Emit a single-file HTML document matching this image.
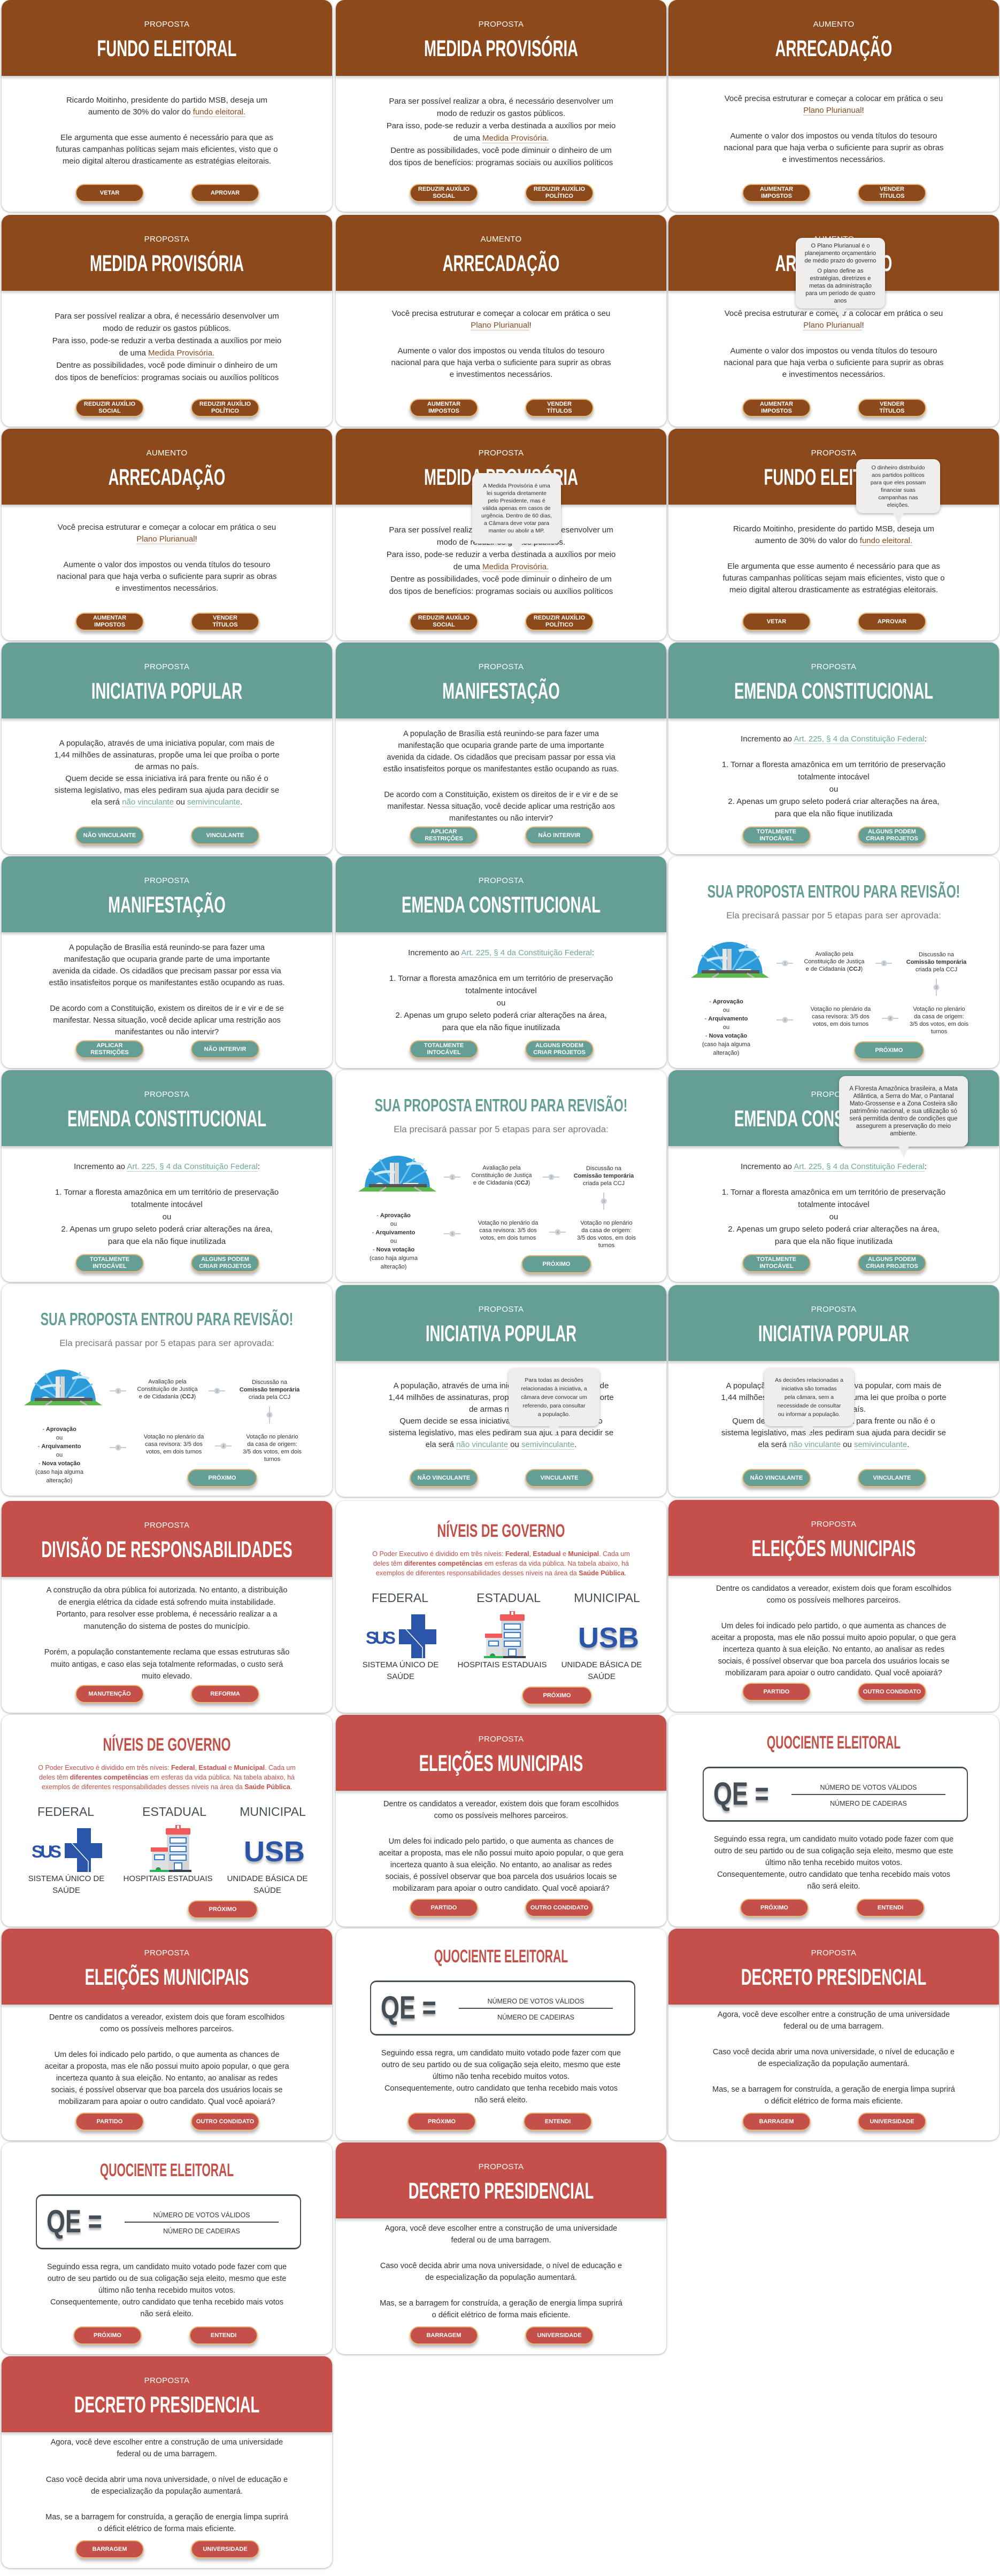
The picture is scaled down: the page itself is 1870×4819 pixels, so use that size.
<!DOCTYPE html>
<html lang="pt-BR">
<head>
<meta charset="utf-8">
<title>Propostas</title>
<style>
*{box-sizing:border-box;margin:0;padding:0}
html,body{width:1870px;height:4819px;background:#fff;overflow:hidden}
body{position:relative;font-family:"Liberation Sans","DejaVu Sans",sans-serif;color:#333}
.card{position:absolute;width:618px;height:396px;background:#fff;border-radius:16px;box-shadow:0 1px 4px rgba(0,0,0,.35)}
.hdr{position:absolute;left:0;top:0;width:100%;height:142px;border-radius:16px 16px 0 0;color:#fff;text-align:center;box-shadow:0 4px 5px rgba(0,0,0,.18)}
.b .hdr,.b .btn{background:#8c4a1c}
.t .hdr,.t .btn{background:#659e95}
.r .hdr,.r .btn{background:#c5504a}
.sub{position:absolute;left:0;right:0;top:38px;font-size:15px;line-height:16px;letter-spacing:.3px}
.ttl{position:absolute;left:0;right:0;top:68px;height:46px;font-size:43px;line-height:46px;font-weight:bold;white-space:nowrap}
.ttl span,.wt span{position:absolute;left:50%;top:0;white-space:nowrap;transform:translateX(-50%) scaleX(var(--s,.64))}
.body{position:absolute;left:0;right:0;text-align:center;font-size:15px;line-height:22px;white-space:nowrap;color:#333}
.body p+p{margin-top:26px}
.lb{color:#8c4a1c;border-bottom:1.5px solid #d9b8a6}
.lt{color:#6fa89f;border-bottom:1.5px solid #b8d6d1}
.btn{position:absolute;top:344px;width:128px;height:34px;border-radius:17px;border:2px solid #e9b676;color:#fff;font-weight:bold;font-size:11px;line-height:13px;display:flex;align-items:center;justify-content:center;text-align:center;box-shadow:0 5px 6px rgba(0,0,0,.28)}
.b1{left:138px}.b2{left:354px}
.tip{position:absolute;background:#efeeec;border-radius:12px;box-shadow:0 2px 6px rgba(0,0,0,.3);color:#333;font-size:11px;line-height:14px;text-align:center;display:flex;flex-direction:column;justify-content:center;z-index:5}
.tip i{position:absolute;width:0;height:0;border-left:10px solid transparent;border-right:10px solid transparent;border-top:22px solid #efeeec;bottom:-21px}
.wt{position:absolute;left:0;right:0;height:36px;text-align:center;font-weight:bold;white-space:nowrap}
.teal{color:#659e95}.red{color:#c5504a}
.abs{position:absolute}
.st{position:absolute;font-size:11px;line-height:14px;text-align:center;white-space:nowrap;color:#333;transform:translateX(-50%)}
.arr{position:absolute;width:34px;height:12px}
</style>
</head>
<body>

<!-- ROW 1 -->
<div class="card b" style="left:3px;top:0">
 <div class="hdr"><div class="sub">PROPOSTA</div><div class="ttl"><span>FUNDO ELEITORAL</span></div></div>
 <div class="body" style="top:177px"><p>Ricardo Moitinho, presidente do partido MSB, deseja um<br>aumento de 30% do valor do <span class="lb">fundo eleitoral.</span></p><p>Ele argumenta que esse aumento é necessário para que as<br>futuras campanhas políticas sejam mais eficientes, visto que o<br>meio digital alterou drasticamente as estratégias eleitorais.</p></div>
 <div class="btn b1">VETAR</div><div class="btn b2">APROVAR</div>
</div>
<div class="card b" style="left:628px;top:0">
 <div class="hdr"><div class="sub">PROPOSTA</div><div class="ttl"><span>MEDIDA PROVISÓRIA</span></div></div>
 <div class="body" style="top:178px;line-height:23px"><p>Para ser possível realizar a obra, é necessário desenvolver um<br>modo de reduzir os gastos públicos.<br>Para isso, pode-se reduzir a verba destinada a auxílios por meio<br>de uma <span class="lb">Medida Provisória.</span><br>Dentre as possibilidades, você pode diminuir o dinheiro de um<br>dos tipos de benefícios: programas sociais ou auxílios políticos</p></div>
 <div class="btn b1">REDUZIR AUXÍLIO<br>SOCIAL</div><div class="btn b2">REDUZIR AUXÍLIO<br>POLÍTICO</div>
</div>
<div class="card b" style="left:1250px;top:0">
 <div class="hdr"><div class="sub">AUMENTO</div><div class="ttl"><span>ARRECADAÇÃO</span></div></div>
 <div class="body" style="top:174px"><p>Você precisa estruturar e começar a colocar em prática o seu<br><span class="lb">Plano Plurianual</span>!</p><p>Aumente o valor dos impostos ou venda títulos do tesouro<br>nacional para que haja verba o suficiente para suprir as obras<br>e investimentos necessários.</p></div>
 <div class="btn b1">AUMENTAR<br>IMPOSTOS</div><div class="btn b2">VENDER<br>TÍTULOS</div>
</div>

<!-- ROW 2 -->
<div class="card b" style="left:3px;top:402px">
 <div class="hdr"><div class="sub">PROPOSTA</div><div class="ttl"><span>MEDIDA PROVISÓRIA</span></div></div>
 <div class="body" style="top:178px;line-height:23px"><p>Para ser possível realizar a obra, é necessário desenvolver um<br>modo de reduzir os gastos públicos.<br>Para isso, pode-se reduzir a verba destinada a auxílios por meio<br>de uma <span class="lb">Medida Provisória.</span><br>Dentre as possibilidades, você pode diminuir o dinheiro de um<br>dos tipos de benefícios: programas sociais ou auxílios políticos</p></div>
 <div class="btn b1">REDUZIR AUXÍLIO<br>SOCIAL</div><div class="btn b2">REDUZIR AUXÍLIO<br>POLÍTICO</div>
</div>
<div class="card b" style="left:628px;top:402px">
 <div class="hdr"><div class="sub">AUMENTO</div><div class="ttl"><span>ARRECADAÇÃO</span></div></div>
 <div class="body" style="top:174px"><p>Você precisa estruturar e começar a colocar em prática o seu<br><span class="lb">Plano Plurianual</span>!</p><p>Aumente o valor dos impostos ou venda títulos do tesouro<br>nacional para que haja verba o suficiente para suprir as obras<br>e investimentos necessários.</p></div>
 <div class="btn b1">AUMENTAR<br>IMPOSTOS</div><div class="btn b2">VENDER<br>TÍTULOS</div>
</div>
<div class="card b" style="left:1250px;top:402px">
 <div class="hdr"><div class="sub">AUMENTO</div><div class="ttl"><span>ARRECADAÇÃO</span></div></div>
 <div class="body" style="top:174px"><p>Você precisa estruturar e começar a colocar em prática o seu<br><span class="lb">Plano Plurianual</span>!</p><p>Aumente o valor dos impostos ou venda títulos do tesouro<br>nacional para que haja verba o suficiente para suprir as obras<br>e investimentos necessários.</p></div>
 <div class="btn b1">AUMENTAR<br>IMPOSTOS</div><div class="btn b2">VENDER<br>TÍTULOS</div>
 <div class="tip" style="left:238px;top:43px;width:167px;height:132px"><div>O Plano Plurianual é o<br>planejamento orçamentário<br>de médio prazo do governo</div><div style="margin-top:5px">O plano define as<br>estratégias, diretrizes e<br>metas da administração<br>para um período de quatro<br>anos</div><i style="left:74px"></i></div>
</div>

<!-- ROW 3 -->
<div class="card b" style="left:3px;top:802px">
 <div class="hdr"><div class="sub">AUMENTO</div><div class="ttl"><span>ARRECADAÇÃO</span></div></div>
 <div class="body" style="top:174px"><p>Você precisa estruturar e começar a colocar em prática o seu<br><span class="lb">Plano Plurianual</span>!</p><p>Aumente o valor dos impostos ou venda títulos do tesouro<br>nacional para que haja verba o suficiente para suprir as obras<br>e investimentos necessários.</p></div>
 <div class="btn b1">AUMENTAR<br>IMPOSTOS</div><div class="btn b2">VENDER<br>TÍTULOS</div>
</div>
<div class="card b" style="left:628px;top:802px">
 <div class="hdr"><div class="sub">PROPOSTA</div><div class="ttl"><span>MEDIDA PROVISÓRIA</span></div></div>
 <div class="body" style="top:178px;line-height:23px"><p>Para ser possível realizar a obra, é necessário desenvolver um<br>modo de reduzir os gastos públicos.<br>Para isso, pode-se reduzir a verba destinada a auxílios por meio<br>de uma <span class="lb">Medida Provisória.</span><br>Dentre as possibilidades, você pode diminuir o dinheiro de um<br>dos tipos de benefícios: programas sociais ou auxílios políticos</p></div>
 <div class="btn b1">REDUZIR AUXÍLIO<br>SOCIAL</div><div class="btn b2">REDUZIR AUXÍLIO<br>POLÍTICO</div>
 <div class="tip" style="left:255px;top:83px;width:166px;height:132px;font-size:10.5px"><div>A Medida Provisória é uma<br>lei sugerida diretamente<br>pelo Presidente, mas é<br>válida apenas em casos de<br>urgência. Dentro de 60 dias,<br>a Câmara deve votar para<br>manter ou abolir a MP.</div><i style="left:74px"></i></div>
</div>
<div class="card b" style="left:1250px;top:802px">
 <div class="hdr"><div class="sub">PROPOSTA</div><div class="ttl"><span>FUNDO ELEITORAL</span></div></div>
 <div class="body" style="top:177px"><p>Ricardo Moitinho, presidente do partido MSB, deseja um<br>aumento de 30% do valor do <span class="lb">fundo eleitoral.</span></p><p>Ele argumenta que esse aumento é necessário para que as<br>futuras campanhas políticas sejam mais eficientes, visto que o<br>meio digital alterou drasticamente as estratégias eleitorais.</p></div>
 <div class="btn b1">VETAR</div><div class="btn b2">APROVAR</div>
 <div class="tip" style="left:351px;top:57px;width:157px;height:101px;font-size:10.5px"><div>O dinheiro distribuído<br>aos partidos políticos<br>para que eles possam<br>financiar suas<br>campanhas nas<br>eleições.</div><i style="left:69px"></i></div>
</div>

<!-- ROW 4 -->
<div class="card t" style="left:3px;top:1202px">
 <div class="hdr"><div class="sub">PROPOSTA</div><div class="ttl"><span>INICIATIVA POPULAR</span></div></div>
 <div class="body" style="top:178px"><p>A população, através de uma iniciativa popular, com mais de<br>1,44 milhões de assinaturas, propõe uma lei que proíba o porte<br>de armas no país.<br>Quem decide se essa iniciativa irá para frente ou não é o<br>sistema legislativo, mas eles pediram sua ajuda para decidir se<br>ela será <span class="lt">não vinculante</span> ou <span class="lt">semivinculante</span>.</p></div>
 <div class="btn b1">NÃO VINCULANTE</div><div class="btn b2">VINCULANTE</div>
</div>
<div class="card t" style="left:628px;top:1202px">
 <div class="hdr"><div class="sub">PROPOSTA</div><div class="ttl"><span>MANIFESTAÇÃO</span></div></div>
 <div class="body" style="top:160px;font-size:14.5px"><p>A população de Brasília está reunindo-se para fazer uma<br>manifestação que ocuparia grande parte de uma importante<br>avenida da cidade. Os cidadãos que precisam passar por essa via<br>estão insatisfeitos porque os manifestantes estão ocupando as ruas.</p><p>De acordo com a Constituição, existem os direitos de ir e vir e de se<br>manifestar. Nessa situação, você decide aplicar uma restrição aos<br>manifestantes ou não intervir?</p></div>
 <div class="btn b1">APLICAR<br>RESTRIÇÕES</div><div class="btn b2">NÃO INTERVIR</div>
</div>
<div class="card t" style="left:1250px;top:1202px">
 <div class="hdr"><div class="sub">PROPOSTA</div><div class="ttl"><span>EMENDA CONSTITUCIONAL</span></div></div>
 <div class="body" style="top:169px;line-height:23px"><p>Incremento ao <span class="lt">Art. 225, § 4 da Constituição Federal</span>:</p><p style="margin-top:25px">1. Tornar a floresta amazônica em um território de preservação<br>totalmente intocável<br>ou<br>2. Apenas um grupo seleto poderá criar alterações na área,<br>para que ela não fique inutilizada</p></div>
 <div class="btn b1">TOTALMENTE<br>INTOCÁVEL</div><div class="btn b2">ALGUNS PODEM<br>CRIAR PROJETOS</div>
</div>

<!-- ROW 5 -->
<div class="card t" style="left:3px;top:1602px">
 <div class="hdr"><div class="sub">PROPOSTA</div><div class="ttl"><span>MANIFESTAÇÃO</span></div></div>
 <div class="body" style="top:160px;font-size:14.5px"><p>A população de Brasília está reunindo-se para fazer uma<br>manifestação que ocuparia grande parte de uma importante<br>avenida da cidade. Os cidadãos que precisam passar por essa via<br>estão insatisfeitos porque os manifestantes estão ocupando as ruas.</p><p>De acordo com a Constituição, existem os direitos de ir e vir e de se<br>manifestar. Nessa situação, você decide aplicar uma restrição aos<br>manifestantes ou não intervir?</p></div>
 <div class="btn b1">APLICAR<br>RESTRIÇÕES</div><div class="btn b2">NÃO INTERVIR</div>
</div>
<div class="card t" style="left:628px;top:1602px">
 <div class="hdr"><div class="sub">PROPOSTA</div><div class="ttl"><span>EMENDA CONSTITUCIONAL</span></div></div>
 <div class="body" style="top:169px;line-height:23px"><p>Incremento ao <span class="lt">Art. 225, § 4 da Constituição Federal</span>:</p><p style="margin-top:25px">1. Tornar a floresta amazônica em um território de preservação<br>totalmente intocável<br>ou<br>2. Apenas um grupo seleto poderá criar alterações na área,<br>para que ela não fique inutilizada</p></div>
 <div class="btn b1">TOTALMENTE<br>INTOCÁVEL</div><div class="btn b2">ALGUNS PODEM<br>CRIAR PROJETOS</div>
</div>
<div class="card t" style="left:1250px;top:1602px">
 <div class="wt teal" style="top:48px;font-size:33px;line-height:36px"><span style="--s:.7">SUA PROPOSTA ENTROU PARA REVISÃO!</span></div>
 <div class="abs" style="left:0;right:0;top:101px;text-align:center;font-size:17px;line-height:20px;color:#777">Ela precisará passar por 5 etapas para ser aprovada:</div>
 <svg class="abs" style="left:42px;top:155px" width="146" height="72" viewBox="0 0 146 72"><path d="M12 66 A61 61 0 0 1 134 66 Z" fill="#2c9ad8"/><g stroke="#6cc3ee" stroke-width="3"><line x1="73" y1="66" x2="20" y2="30"/><line x1="73" y1="66" x2="40" y2="12"/><line x1="73" y1="66" x2="105" y2="10"/><line x1="73" y1="66" x2="128" y2="32"/></g><path d="M30 40 q20 -8 40 -4 M90 22 q15 -6 32 0" stroke="#cfeaf8" stroke-width="5" fill="none"/><rect x="59" y="18" width="8" height="43" fill="#e8e8e8"/><rect x="68" y="18" width="8" height="43" fill="#d2d2d2"/><path d="M83 56 h30 q-4 7 -15 7 q-11 0 -15 -7z" fill="#f2f2f2"/><path d="M30 60 q10 -9 20 0z" fill="#f2f2f2"/><rect x="20" y="58" width="108" height="6" fill="#555"/><path d="M0 72 L12 64 H134 L146 72 Z" fill="#5cb848"/><path d="M40 72 L52 64 M105 64 L118 72" stroke="#bbb" stroke-width="3"/></svg>
 <svg class="arr" style="left:201px;top:194px" viewBox="0 0 34 12"><line x1="1" y1="6" x2="32" y2="6" stroke="#999"/><circle cx="17" cy="6" r="5.5" fill="#ccd3d9"/><text x="17" y="8.5" font-size="7" text-anchor="middle" fill="#888">1</text></svg>
 <div class="st" style="left:310px;top:176px">Avaliação pela<br>Constituição de Justiça<br>e de Cidadania (<b>CCJ</b>)</div>
 <svg class="arr" style="left:386px;top:194px" viewBox="0 0 34 12"><line x1="1" y1="6" x2="32" y2="6" stroke="#999"/><circle cx="17" cy="6" r="5.5" fill="#ccd3d9"/><text x="17" y="8.5" font-size="7" text-anchor="middle" fill="#888">2</text></svg>
 <div class="st" style="left:501px;top:177px">Discussão na<br><b>Comissão temporária</b><br>criada pela CCJ</div>
 <svg class="abs" style="left:495px;top:228px" width="12" height="34" viewBox="0 0 12 34"><line x1="6" y1="1" x2="6" y2="33" stroke="#999"/><circle cx="6" cy="17" r="5.5" fill="#ccd3d9"/><text x="6" y="19.5" font-size="7" text-anchor="middle" fill="#888">3</text></svg>
 <div class="st" style="left:506px;top:279px">Votação no plenário<br>da casa de origem:<br>3/5 dos votos, em dois<br>turnos</div>
 <svg class="arr" style="left:398px;top:297px" viewBox="0 0 34 12"><line x1="1" y1="6" x2="32" y2="6" stroke="#999"/><circle cx="17" cy="6" r="5.5" fill="#ccd3d9"/><text x="17" y="8.5" font-size="7" text-anchor="middle" fill="#888">4</text></svg>
 <div class="st" style="left:322px;top:279px">Votação no plenário da<br>casa revisora: 3/5 dos<br>votos, em dois turnos</div>
 <svg class="arr" style="left:201px;top:300px" viewBox="0 0 34 12"><line x1="1" y1="6" x2="32" y2="6" stroke="#999"/><circle cx="17" cy="6" r="5.5" fill="#ccd3d9"/><text x="17" y="8.5" font-size="7" text-anchor="middle" fill="#888">5</text></svg>
 <div class="st" style="left:108px;top:264px;line-height:16px">- <b>Aprovação</b><br>ou<br>- <b>Arquivamento</b><br>ou<br>- <b>Nova votação</b><br>(caso haja alguma<br>alteração)</div>
 <div class="btn" style="left:347px;top:346px;width:131px">PRÓXIMO</div>
</div>

<!-- ROW 6 -->
<div class="card t" style="left:3px;top:2002px">
 <div class="hdr"><div class="sub">PROPOSTA</div><div class="ttl"><span>EMENDA CONSTITUCIONAL</span></div></div>
 <div class="body" style="top:169px;line-height:23px"><p>Incremento ao <span class="lt">Art. 225, § 4 da Constituição Federal</span>:</p><p style="margin-top:25px">1. Tornar a floresta amazônica em um território de preservação<br>totalmente intocável<br>ou<br>2. Apenas um grupo seleto poderá criar alterações na área,<br>para que ela não fique inutilizada</p></div>
 <div class="btn b1">TOTALMENTE<br>INTOCÁVEL</div><div class="btn b2">ALGUNS PODEM<br>CRIAR PROJETOS</div>
</div>
<div class="card t" style="left:628px;top:2002px">
 <div class="wt teal" style="top:48px;font-size:33px;line-height:36px"><span style="--s:.7">SUA PROPOSTA ENTROU PARA REVISÃO!</span></div>
 <div class="abs" style="left:0;right:0;top:101px;text-align:center;font-size:17px;line-height:20px;color:#777">Ela precisará passar por 5 etapas para ser aprovada:</div>
 <svg class="abs" style="left:42px;top:155px" width="146" height="72" viewBox="0 0 146 72"><path d="M12 66 A61 61 0 0 1 134 66 Z" fill="#2c9ad8"/><g stroke="#6cc3ee" stroke-width="3"><line x1="73" y1="66" x2="20" y2="30"/><line x1="73" y1="66" x2="40" y2="12"/><line x1="73" y1="66" x2="105" y2="10"/><line x1="73" y1="66" x2="128" y2="32"/></g><path d="M30 40 q20 -8 40 -4 M90 22 q15 -6 32 0" stroke="#cfeaf8" stroke-width="5" fill="none"/><rect x="59" y="18" width="8" height="43" fill="#e8e8e8"/><rect x="68" y="18" width="8" height="43" fill="#d2d2d2"/><path d="M83 56 h30 q-4 7 -15 7 q-11 0 -15 -7z" fill="#f2f2f2"/><path d="M30 60 q10 -9 20 0z" fill="#f2f2f2"/><rect x="20" y="58" width="108" height="6" fill="#555"/><path d="M0 72 L12 64 H134 L146 72 Z" fill="#5cb848"/><path d="M40 72 L52 64 M105 64 L118 72" stroke="#bbb" stroke-width="3"/></svg>
 <svg class="arr" style="left:201px;top:194px" viewBox="0 0 34 12"><line x1="1" y1="6" x2="32" y2="6" stroke="#999"/><circle cx="17" cy="6" r="5.5" fill="#ccd3d9"/><text x="17" y="8.5" font-size="7" text-anchor="middle" fill="#888">1</text></svg>
 <div class="st" style="left:310px;top:176px">Avaliação pela<br>Constituição de Justiça<br>e de Cidadania (<b>CCJ</b>)</div>
 <svg class="arr" style="left:386px;top:194px" viewBox="0 0 34 12"><line x1="1" y1="6" x2="32" y2="6" stroke="#999"/><circle cx="17" cy="6" r="5.5" fill="#ccd3d9"/><text x="17" y="8.5" font-size="7" text-anchor="middle" fill="#888">2</text></svg>
 <div class="st" style="left:501px;top:177px">Discussão na<br><b>Comissão temporária</b><br>criada pela CCJ</div>
 <svg class="abs" style="left:495px;top:228px" width="12" height="34" viewBox="0 0 12 34"><line x1="6" y1="1" x2="6" y2="33" stroke="#999"/><circle cx="6" cy="17" r="5.5" fill="#ccd3d9"/><text x="6" y="19.5" font-size="7" text-anchor="middle" fill="#888">3</text></svg>
 <div class="st" style="left:506px;top:279px">Votação no plenário<br>da casa de origem:<br>3/5 dos votos, em dois<br>turnos</div>
 <svg class="arr" style="left:398px;top:297px" viewBox="0 0 34 12"><line x1="1" y1="6" x2="32" y2="6" stroke="#999"/><circle cx="17" cy="6" r="5.5" fill="#ccd3d9"/><text x="17" y="8.5" font-size="7" text-anchor="middle" fill="#888">4</text></svg>
 <div class="st" style="left:322px;top:279px">Votação no plenário da<br>casa revisora: 3/5 dos<br>votos, em dois turnos</div>
 <svg class="arr" style="left:201px;top:300px" viewBox="0 0 34 12"><line x1="1" y1="6" x2="32" y2="6" stroke="#999"/><circle cx="17" cy="6" r="5.5" fill="#ccd3d9"/><text x="17" y="8.5" font-size="7" text-anchor="middle" fill="#888">5</text></svg>
 <div class="st" style="left:108px;top:264px;line-height:16px">- <b>Aprovação</b><br>ou<br>- <b>Arquivamento</b><br>ou<br>- <b>Nova votação</b><br>(caso haja alguma<br>alteração)</div>
 <div class="btn" style="left:347px;top:346px;width:131px">PRÓXIMO</div>
</div>
<div class="card t" style="left:1250px;top:2002px">
 <div class="hdr"><div class="sub">PROPOSTA</div><div class="ttl"><span>EMENDA CONSTITUCIONAL</span></div></div>
 <div class="body" style="top:169px;line-height:23px"><p>Incremento ao <span class="lt">Art. 225, § 4 da Constituição Federal</span>:</p><p style="margin-top:25px">1. Tornar a floresta amazônica em um território de preservação<br>totalmente intocável<br>ou<br>2. Apenas um grupo seleto poderá criar alterações na área,<br>para que ela não fique inutilizada</p></div>
 <div class="btn b1">TOTALMENTE<br>INTOCÁVEL</div><div class="btn b2">ALGUNS PODEM<br>CRIAR PROJETOS</div>
 <div class="tip" style="left:319px;top:11px;width:241px;height:132px;font-size:11.5px"><div>A Floresta Amazônica brasileira, a Mata<br>Atlântica, a Serra do Mar, o Pantanal<br>Mato-Grossense e a Zona Costeira são<br>patrimônio nacional, e sua utilização só<br>será permitida dentro de condições que<br>assegurem a preservação do meio<br>ambiente.</div><i style="left:111px"></i></div>
</div>

<!-- ROW 7 -->
<div class="card t" style="left:3px;top:2402px">
 <div class="wt teal" style="top:48px;font-size:33px;line-height:36px"><span style="--s:.7">SUA PROPOSTA ENTROU PARA REVISÃO!</span></div>
 <div class="abs" style="left:0;right:0;top:101px;text-align:center;font-size:17px;line-height:20px;color:#777">Ela precisará passar por 5 etapas para ser aprovada:</div>
 <svg class="abs" style="left:42px;top:155px" width="146" height="72" viewBox="0 0 146 72"><path d="M12 66 A61 61 0 0 1 134 66 Z" fill="#2c9ad8"/><g stroke="#6cc3ee" stroke-width="3"><line x1="73" y1="66" x2="20" y2="30"/><line x1="73" y1="66" x2="40" y2="12"/><line x1="73" y1="66" x2="105" y2="10"/><line x1="73" y1="66" x2="128" y2="32"/></g><path d="M30 40 q20 -8 40 -4 M90 22 q15 -6 32 0" stroke="#cfeaf8" stroke-width="5" fill="none"/><rect x="59" y="18" width="8" height="43" fill="#e8e8e8"/><rect x="68" y="18" width="8" height="43" fill="#d2d2d2"/><path d="M83 56 h30 q-4 7 -15 7 q-11 0 -15 -7z" fill="#f2f2f2"/><path d="M30 60 q10 -9 20 0z" fill="#f2f2f2"/><rect x="20" y="58" width="108" height="6" fill="#555"/><path d="M0 72 L12 64 H134 L146 72 Z" fill="#5cb848"/><path d="M40 72 L52 64 M105 64 L118 72" stroke="#bbb" stroke-width="3"/></svg>
 <svg class="arr" style="left:201px;top:194px" viewBox="0 0 34 12"><line x1="1" y1="6" x2="32" y2="6" stroke="#999"/><circle cx="17" cy="6" r="5.5" fill="#ccd3d9"/><text x="17" y="8.5" font-size="7" text-anchor="middle" fill="#888">1</text></svg>
 <div class="st" style="left:310px;top:176px">Avaliação pela<br>Constituição de Justiça<br>e de Cidadania (<b>CCJ</b>)</div>
 <svg class="arr" style="left:386px;top:194px" viewBox="0 0 34 12"><line x1="1" y1="6" x2="32" y2="6" stroke="#999"/><circle cx="17" cy="6" r="5.5" fill="#ccd3d9"/><text x="17" y="8.5" font-size="7" text-anchor="middle" fill="#888">2</text></svg>
 <div class="st" style="left:501px;top:177px">Discussão na<br><b>Comissão temporária</b><br>criada pela CCJ</div>
 <svg class="abs" style="left:495px;top:228px" width="12" height="34" viewBox="0 0 12 34"><line x1="6" y1="1" x2="6" y2="33" stroke="#999"/><circle cx="6" cy="17" r="5.5" fill="#ccd3d9"/><text x="6" y="19.5" font-size="7" text-anchor="middle" fill="#888">3</text></svg>
 <div class="st" style="left:506px;top:279px">Votação no plenário<br>da casa de origem:<br>3/5 dos votos, em dois<br>turnos</div>
 <svg class="arr" style="left:398px;top:297px" viewBox="0 0 34 12"><line x1="1" y1="6" x2="32" y2="6" stroke="#999"/><circle cx="17" cy="6" r="5.5" fill="#ccd3d9"/><text x="17" y="8.5" font-size="7" text-anchor="middle" fill="#888">4</text></svg>
 <div class="st" style="left:322px;top:279px">Votação no plenário da<br>casa revisora: 3/5 dos<br>votos, em dois turnos</div>
 <svg class="arr" style="left:201px;top:300px" viewBox="0 0 34 12"><line x1="1" y1="6" x2="32" y2="6" stroke="#999"/><circle cx="17" cy="6" r="5.5" fill="#ccd3d9"/><text x="17" y="8.5" font-size="7" text-anchor="middle" fill="#888">5</text></svg>
 <div class="st" style="left:108px;top:264px;line-height:16px">- <b>Aprovação</b><br>ou<br>- <b>Arquivamento</b><br>ou<br>- <b>Nova votação</b><br>(caso haja alguma<br>alteração)</div>
 <div class="btn" style="left:347px;top:346px;width:131px">PRÓXIMO</div>
</div>
<div class="card t" style="left:628px;top:2404px">
 <div class="hdr"><div class="sub">PROPOSTA</div><div class="ttl"><span>INICIATIVA POPULAR</span></div></div>
 <div class="body" style="top:178px"><p>A população, através de uma iniciativa popular, com mais de<br>1,44 milhões de assinaturas, propõe uma lei que proíba o porte<br>de armas no país.<br>Quem decide se essa iniciativa irá para frente ou não é o<br>sistema legislativo, mas eles pediram sua ajuda para decidir se<br>ela será <span class="lt">não vinculante</span> ou <span class="lt">semivinculante</span>.</p></div>
 <div class="btn b1">NÃO VINCULANTE</div><div class="btn b2">VINCULANTE</div>
 <div class="tip" style="left:323px;top:155px;width:170px;height:109px;font-size:10.5px;line-height:16px"><div>Para todas as decisões<br>relacionadas à iniciativa, a<br>câmara deve convocar um<br>referendo, para consultar<br>a população.</div><i style="left:75px"></i></div>
</div>
<div class="card t" style="left:1250px;top:2404px">
 <div class="hdr"><div class="sub">PROPOSTA</div><div class="ttl"><span>INICIATIVA POPULAR</span></div></div>
 <div class="body" style="top:178px"><p>A população, através de uma iniciativa popular, com mais de<br>1,44 milhões de assinaturas, propõe uma lei que proíba o porte<br>de armas no país.<br>Quem decide se essa iniciativa irá para frente ou não é o<br>sistema legislativo, mas eles pediram sua ajuda para decidir se<br>ela será <span class="lt">não vinculante</span> ou <span class="lt">semivinculante</span>.</p></div>
 <div class="btn b1">NÃO VINCULANTE</div><div class="btn b2">VINCULANTE</div>
 <div class="tip" style="left:179px;top:155px;width:168px;height:109px;font-size:10.5px;line-height:16px"><div>As decisões relacionadas a<br>iniciativa são tomadas<br>pela câmara, sem a<br>necessidade de consultar<br>ou informar a população.</div><i style="left:72px"></i></div>
</div>

<!-- ROW 8 -->
<div class="card r" style="left:3px;top:2808px">
 <div class="hdr"><div class="sub">PROPOSTA</div><div class="ttl"><span>DIVISÃO DE RESPONSABILIDADES</span></div></div>
 <div class="body" style="top:156px;line-height:22.5px;font-size:14.5px"><p>A construção da obra pública foi autorizada. No entanto, a distribuição<br>de energia elétrica da cidade está sofrendo muita instabilidade.<br>Portanto, para resolver esse problema, é necessário realizar a a<br>manutenção do sistema de postes do município.</p><p>Porém, a população constantemente reclama que essas estruturas são<br>muito antigas, e caso elas seja totalmente reformadas, o custo será<br>muito elevado.</p></div>
 <div class="btn b1">MANUTENÇÃO</div><div class="btn b2">REFORMA</div>
</div>
<div class="card r" style="left:628px;top:2808px">
 <div class="wt red" style="top:38px;font-size:34px;line-height:36px"><span style="--s:.68">NÍVEIS DE GOVERNO</span></div>
 <div class="abs red" style="left:0;right:0;top:90px;text-align:center;font-size:12.5px;line-height:18px;white-space:nowrap">O Poder Executivo é dividido em três níveis: <b>Federal</b>, <b>Estadual</b> e <b>Municipal</b>. Cada um<br>deles têm <b>diferentes competências</b> em esferas da vida pública. Na tabela abaixo, há<br>exemplos de diferentes responsabilidades desses níveis na área da <b>Saúde Pública</b>.</div>
 <div class="st" style="left:120px;top:168px;font-size:23px;line-height:26px;color:#454d56">FEDERAL</div>
 <div class="st" style="left:323px;top:168px;font-size:23px;line-height:26px;color:#454d56">ESTADUAL</div>
 <div class="st" style="left:507px;top:168px;font-size:23px;line-height:26px;color:#454d56">MUNICIPAL</div>
 <svg class="abs" style="left:56px;top:212px" width="132" height="82" viewBox="0 0 132 82"><text x="0" y="55" font-family="Liberation Sans" font-weight="bold" font-size="32" fill="#2a55a8" textLength="56">SUS</text><rect x="85" y="0" width="26" height="82" fill="#2a55a8"/><rect x="62" y="28" width="70" height="28" fill="#2a55a8"/><path d="M75 28 L106 62 L106 82" stroke="#fff" stroke-width="1.5" fill="none"/></svg>
 <svg class="abs" style="left:277px;top:206px" width="78" height="88" viewBox="0 0 78 88"><rect x="32" y="12" width="42" height="72" fill="#d6d6d6"/><rect x="30" y="6" width="46" height="12" rx="2" fill="#f05a5a"/><rect x="48" y="0" width="10" height="8" fill="#f05a5a"/><rect x="51" y="1" width="4" height="6" fill="#fff"/><g fill="#fff" stroke="#2d7ad6" stroke-width="2"><rect x="38" y="24" width="30" height="10"/><rect x="38" y="40" width="30" height="10"/><rect x="38" y="56" width="30" height="10"/><rect x="46" y="71" width="14" height="13"/></g><rect x="4" y="46" width="30" height="38" fill="#e0e0e0"/><rect x="2" y="42" width="32" height="8" fill="#f05a5a"/><rect x="9" y="56" width="18" height="9" fill="#fff" stroke="#2d7ad6" stroke-width="2"/><circle cx="16" cy="84" r="5" fill="#2a9a4a"/><rect x="0" y="84" width="36" height="4" fill="#2bb35a"/><rect x="36" y="84" width="42" height="4" fill="#3a3f48"/></svg>
 <div class="abs" style="left:453px;top:226px;font-size:54px;line-height:60px;font-weight:bold;color:#2a55a8;text-shadow:0 4px 4px rgba(0,0,0,.3)">USB</div>
 <div class="st" style="left:121px;top:296px;font-size:15px;line-height:22px">SISTEMA ÚNICO DE<br>SAÚDE</div>
 <div class="st" style="left:311px;top:296px;font-size:15px;line-height:22px">HOSPITAIS ESTADUAIS</div>
 <div class="st" style="left:497px;top:296px;font-size:15px;line-height:22px">UNIDADE BÁSICA DE<br>SAÚDE</div>
 <div class="btn" style="left:348px;top:347px;width:131px">PRÓXIMO</div>
</div>
<div class="card r" style="left:1250px;top:2806px">
 <div class="hdr"><div class="sub">PROPOSTA</div><div class="ttl"><span>ELEIÇÕES MUNICIPAIS</span></div></div>
 <div class="body" style="top:155px;font-size:14.5px"><p>Dentre os candidatos a vereador, existem dois que foram escolhidos<br>como os possíveis melhores parceiros.</p><p>Um deles foi indicado pelo partido, o que aumenta as chances de<br>aceitar a proposta, mas ele não possui muito apoio popular, o que gera<br>incerteza quanto à sua eleição. No entanto, ao analisar as redes<br>sociais, é possível observar que boa parcela dos usuários locais se<br>mobilizaram para apoiar o outro candidato. Qual você apoiará?</p></div>
 <div class="btn b1" style="top:342px">PARTIDO</div><div class="btn b2" style="top:342px">OUTRO CONDIDATO</div>
</div>

<!-- ROW 9 -->
<div class="card r" style="left:3px;top:3208px">
 <div class="wt red" style="top:38px;font-size:34px;line-height:36px"><span style="--s:.68">NÍVEIS DE GOVERNO</span></div>
 <div class="abs red" style="left:0;right:0;top:90px;text-align:center;font-size:12.5px;line-height:18px;white-space:nowrap">O Poder Executivo é dividido em três níveis: <b>Federal</b>, <b>Estadual</b> e <b>Municipal</b>. Cada um<br>deles têm <b>diferentes competências</b> em esferas da vida pública. Na tabela abaixo, há<br>exemplos de diferentes responsabilidades desses níveis na área da <b>Saúde Pública</b>.</div>
 <div class="st" style="left:120px;top:168px;font-size:23px;line-height:26px;color:#454d56">FEDERAL</div>
 <div class="st" style="left:323px;top:168px;font-size:23px;line-height:26px;color:#454d56">ESTADUAL</div>
 <div class="st" style="left:507px;top:168px;font-size:23px;line-height:26px;color:#454d56">MUNICIPAL</div>
 <svg class="abs" style="left:56px;top:212px" width="132" height="82" viewBox="0 0 132 82"><text x="0" y="55" font-family="Liberation Sans" font-weight="bold" font-size="32" fill="#2a55a8" textLength="56">SUS</text><rect x="85" y="0" width="26" height="82" fill="#2a55a8"/><rect x="62" y="28" width="70" height="28" fill="#2a55a8"/><path d="M75 28 L106 62 L106 82" stroke="#fff" stroke-width="1.5" fill="none"/></svg>
 <svg class="abs" style="left:277px;top:206px" width="78" height="88" viewBox="0 0 78 88"><rect x="32" y="12" width="42" height="72" fill="#d6d6d6"/><rect x="30" y="6" width="46" height="12" rx="2" fill="#f05a5a"/><rect x="48" y="0" width="10" height="8" fill="#f05a5a"/><rect x="51" y="1" width="4" height="6" fill="#fff"/><g fill="#fff" stroke="#2d7ad6" stroke-width="2"><rect x="38" y="24" width="30" height="10"/><rect x="38" y="40" width="30" height="10"/><rect x="38" y="56" width="30" height="10"/><rect x="46" y="71" width="14" height="13"/></g><rect x="4" y="46" width="30" height="38" fill="#e0e0e0"/><rect x="2" y="42" width="32" height="8" fill="#f05a5a"/><rect x="9" y="56" width="18" height="9" fill="#fff" stroke="#2d7ad6" stroke-width="2"/><circle cx="16" cy="84" r="5" fill="#2a9a4a"/><rect x="0" y="84" width="36" height="4" fill="#2bb35a"/><rect x="36" y="84" width="42" height="4" fill="#3a3f48"/></svg>
 <div class="abs" style="left:453px;top:226px;font-size:54px;line-height:60px;font-weight:bold;color:#2a55a8;text-shadow:0 4px 4px rgba(0,0,0,.3)">USB</div>
 <div class="st" style="left:121px;top:296px;font-size:15px;line-height:22px">SISTEMA ÚNICO DE<br>SAÚDE</div>
 <div class="st" style="left:311px;top:296px;font-size:15px;line-height:22px">HOSPITAIS ESTADUAIS</div>
 <div class="st" style="left:497px;top:296px;font-size:15px;line-height:22px">UNIDADE BÁSICA DE<br>SAÚDE</div>
 <div class="btn" style="left:348px;top:347px;width:131px">PRÓXIMO</div>
</div>
<div class="card r" style="left:628px;top:3208px">
 <div class="hdr"><div class="sub">PROPOSTA</div><div class="ttl"><span>ELEIÇÕES MUNICIPAIS</span></div></div>
 <div class="body" style="top:156px;font-size:14.5px"><p>Dentre os candidatos a vereador, existem dois que foram escolhidos<br>como os possíveis melhores parceiros.</p><p>Um deles foi indicado pelo partido, o que aumenta as chances de<br>aceitar a proposta, mas ele não possui muito apoio popular, o que gera<br>incerteza quanto à sua eleição. No entanto, ao analisar as redes<br>sociais, é possível observar que boa parcela dos usuários locais se<br>mobilizaram para apoiar o outro candidato. Qual você apoiará?</p></div>
 <div class="btn b1">PARTIDO</div><div class="btn b2">OUTRO CONDIDATO</div>
</div>
<div class="card r" style="left:1250px;top:3208px">
 <div class="wt red" style="top:34px;font-size:34px;line-height:36px"><span style="--s:.62">QUOCIENTE ELEITORAL</span></div>
 <div class="abs" style="left:64px;top:97px;width:496px;height:103px;border:2px solid #454d56;border-top-width:3px;border-bottom-width:3px;border-radius:12px">
  <div class="abs" style="left:18px;top:16px;font-size:60px;line-height:64px;font-weight:bold;color:#454d56;text-shadow:0 4px 4px rgba(0,0,0,.3)"><span style="display:inline-block;transform:scaleX(.75);transform-origin:left">QE =</span></div>
  <div class="abs" style="left:164px;top:28px;width:288px;text-align:center;font-size:12.5px;line-height:16px;color:#333">NÚMERO DE VOTOS VÁLIDOS</div>
  <div class="abs" style="left:164px;top:48px;width:288px;height:2px;background:#454d56"></div>
  <div class="abs" style="left:164px;top:58px;width:288px;text-align:center;font-size:12.5px;line-height:16px;color:#333">NÚMERO DE CADEIRAS</div>
 </div>
 <div class="body" style="top:222px;font-size:14.5px"><p>Seguindo essa regra, um candidato muito votado pode fazer com que<br>outro de seu partido ou de sua coligação seja eleito, mesmo que este<br>último não tenha recebido muitos votos.<br>Consequentemente, outro candidato que tenha recebido mais votos<br>não será eleito.</p></div>
 <div class="btn" style="left:134px;width:128px">PRÓXIMO</div><div class="btn" style="left:351px;width:128px">ENTENDI</div>
</div>

<!-- ROW 10 -->
<div class="card r" style="left:3px;top:3608px">
 <div class="hdr"><div class="sub">PROPOSTA</div><div class="ttl"><span>ELEIÇÕES MUNICIPAIS</span></div></div>
 <div class="body" style="top:155px;font-size:14.5px"><p>Dentre os candidatos a vereador, existem dois que foram escolhidos<br>como os possíveis melhores parceiros.</p><p>Um deles foi indicado pelo partido, o que aumenta as chances de<br>aceitar a proposta, mas ele não possui muito apoio popular, o que gera<br>incerteza quanto à sua eleição. No entanto, ao analisar as redes<br>sociais, é possível observar que boa parcela dos usuários locais se<br>mobilizaram para apoiar o outro candidato. Qual você apoiará?</p></div>
 <div class="btn b1">PARTIDO</div><div class="btn b2">OUTRO CONDIDATO</div>
</div>
<div class="card r" style="left:628px;top:3608px">
 <div class="wt red" style="top:34px;font-size:34px;line-height:36px"><span style="--s:.62">QUOCIENTE ELEITORAL</span></div>
 <div class="abs" style="left:64px;top:97px;width:496px;height:103px;border:2px solid #454d56;border-top-width:3px;border-bottom-width:3px;border-radius:12px">
  <div class="abs" style="left:18px;top:16px;font-size:60px;line-height:64px;font-weight:bold;color:#454d56;text-shadow:0 4px 4px rgba(0,0,0,.3)"><span style="display:inline-block;transform:scaleX(.75);transform-origin:left">QE =</span></div>
  <div class="abs" style="left:164px;top:28px;width:288px;text-align:center;font-size:12.5px;line-height:16px;color:#333">NÚMERO DE VOTOS VÁLIDOS</div>
  <div class="abs" style="left:164px;top:48px;width:288px;height:2px;background:#454d56"></div>
  <div class="abs" style="left:164px;top:58px;width:288px;text-align:center;font-size:12.5px;line-height:16px;color:#333">NÚMERO DE CADEIRAS</div>
 </div>
 <div class="body" style="top:222px;font-size:14.5px"><p>Seguindo essa regra, um candidato muito votado pode fazer com que<br>outro de seu partido ou de sua coligação seja eleito, mesmo que este<br>último não tenha recebido muitos votos.<br>Consequentemente, outro candidato que tenha recebido mais votos<br>não será eleito.</p></div>
 <div class="btn" style="left:134px;width:128px">PRÓXIMO</div><div class="btn" style="left:351px;width:128px">ENTENDI</div>
</div>
<div class="card r" style="left:1250px;top:3608px">
 <div class="hdr"><div class="sub">PROPOSTA</div><div class="ttl"><span>DECRETO PRESIDENCIAL</span></div></div>
 <div class="body" style="top:150px;font-size:14.5px"><p>Agora, você deve escolher entre a construção de uma universidade<br>federal ou de uma barragem.</p><p>Caso você decida abrir uma nova universidade, o nível de educação e<br>de especialização da população aumentará.</p><p>Mas, se a barragem for construída, a geração de energia limpa suprirá<br>o déficit elétrico de forma mais eficiente.</p></div>
 <div class="btn b1">BARRAGEM</div><div class="btn b2">UNIVERSIDADE</div>
</div>

<!-- ROW 11 -->
<div class="card r" style="left:3px;top:4008px">
 <div class="wt red" style="top:34px;font-size:34px;line-height:36px"><span style="--s:.62">QUOCIENTE ELEITORAL</span></div>
 <div class="abs" style="left:64px;top:97px;width:496px;height:103px;border:2px solid #454d56;border-top-width:3px;border-bottom-width:3px;border-radius:12px">
  <div class="abs" style="left:18px;top:16px;font-size:60px;line-height:64px;font-weight:bold;color:#454d56;text-shadow:0 4px 4px rgba(0,0,0,.3)"><span style="display:inline-block;transform:scaleX(.75);transform-origin:left">QE =</span></div>
  <div class="abs" style="left:164px;top:28px;width:288px;text-align:center;font-size:12.5px;line-height:16px;color:#333">NÚMERO DE VOTOS VÁLIDOS</div>
  <div class="abs" style="left:164px;top:48px;width:288px;height:2px;background:#454d56"></div>
  <div class="abs" style="left:164px;top:58px;width:288px;text-align:center;font-size:12.5px;line-height:16px;color:#333">NÚMERO DE CADEIRAS</div>
 </div>
 <div class="body" style="top:222px;font-size:14.5px"><p>Seguindo essa regra, um candidato muito votado pode fazer com que<br>outro de seu partido ou de sua coligação seja eleito, mesmo que este<br>último não tenha recebido muitos votos.<br>Consequentemente, outro candidato que tenha recebido mais votos<br>não será eleito.</p></div>
 <div class="btn" style="left:134px;width:128px">PRÓXIMO</div><div class="btn" style="left:351px;width:128px">ENTENDI</div>
</div>
<div class="card r" style="left:628px;top:4008px">
 <div class="hdr"><div class="sub">PROPOSTA</div><div class="ttl"><span>DECRETO PRESIDENCIAL</span></div></div>
 <div class="body" style="top:150px;font-size:14.5px"><p>Agora, você deve escolher entre a construção de uma universidade<br>federal ou de uma barragem.</p><p>Caso você decida abrir uma nova universidade, o nível de educação e<br>de especialização da população aumentará.</p><p>Mas, se a barragem for construída, a geração de energia limpa suprirá<br>o déficit elétrico de forma mais eficiente.</p></div>
 <div class="btn b1">BARRAGEM</div><div class="btn b2">UNIVERSIDADE</div>
</div>

<!-- ROW 12 -->
<div class="card r" style="left:3px;top:4408px">
 <div class="hdr"><div class="sub">PROPOSTA</div><div class="ttl"><span>DECRETO PRESIDENCIAL</span></div></div>
 <div class="body" style="top:150px;font-size:14.5px"><p>Agora, você deve escolher entre a construção de uma universidade<br>federal ou de uma barragem.</p><p>Caso você decida abrir uma nova universidade, o nível de educação e<br>de especialização da população aumentará.</p><p>Mas, se a barragem for construída, a geração de energia limpa suprirá<br>o déficit elétrico de forma mais eficiente.</p></div>
 <div class="btn b1">BARRAGEM</div><div class="btn b2">UNIVERSIDADE</div>
</div>

</body>
</html>
